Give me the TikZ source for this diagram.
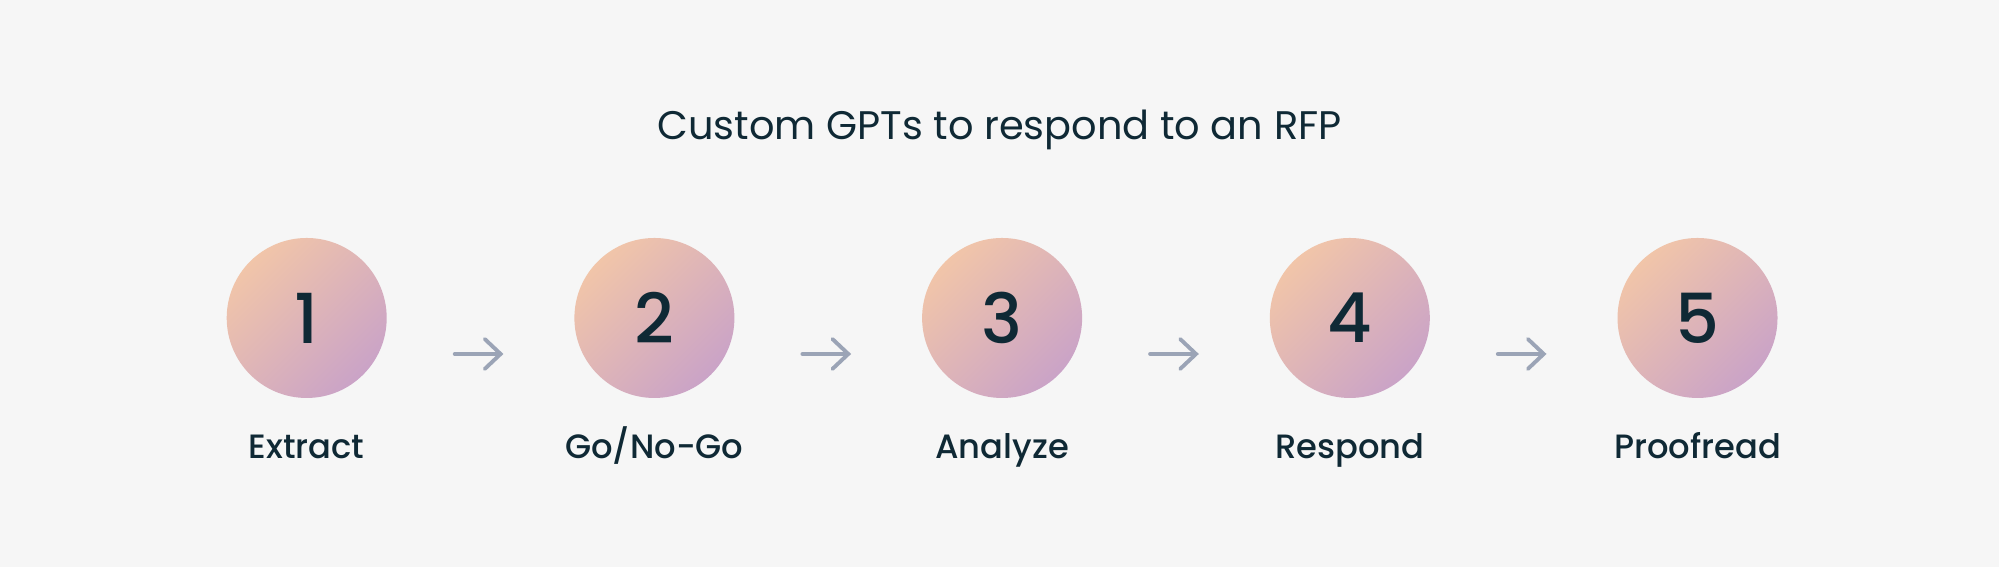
\documentclass[tikz,border=0pt]{standalone}
\usepackage{fontspec}
\setmainfont{Poppins}
\newfontfamily\labelfont{Poppins Medium}
\usetikzlibrary{positioning,arrows.meta}
\definecolor{bgcol}{HTML}{F6F6F6}
\definecolor{inkcol}{HTML}{0F2935}
\definecolor{peach}{HTML}{F1C5A9}
\definecolor{mauve}{HTML}{CAA3C7}
\definecolor{arrowcol}{HTML}{9BA4B6}

\begin{document}
\begin{tikzpicture}[text=inkcol,node distance=1.863cm,
    stepcircle/.style={circle,minimum size=1.6cm,inner sep=0pt,top color=peach,bottom color=mauve,shading angle=45,font=\labelfont\fontsize{19.6}{20}\selectfont},
    steplabel/.style={anchor=base,font=\labelfont\fontsize{9.6}{10}\selectfont},
    steparrow/.style={arrowcol,line width=1.1pt,line cap=round,-{Straight Barb[length=4.5pt,width=8.5pt,line cap=round]},shorten <=0.673cm,shorten >=0.703cm}]
      %background
      \fill[bgcol] (0,0) rectangle (19.99,5.67);
      \useasboundingbox (0,0) rectangle (19.99,5.67);

      %title
      \node[anchor=base,font=\fontsize{11.35}{12}\selectfont] (title) at (9.995,4.275) {Custom GPTs to respond to an RFP};

      %steps
      \node[stepcircle] (c1) at (3.067,2.49) {1};
      \node[stepcircle,right=of c1] (c2) {2};
      \node[stepcircle,right=of c2] (c3) {3};
      \node[stepcircle,right=of c3] (c4) {4};
      \node[stepcircle,right=of c4] (c5) {5};

      %step names
      \node[steplabel] (l1) at ([yshift=-1.41cm]c1.center) {Extract};
      \node[steplabel] (l2) at ([yshift=-1.41cm]c2.center) {Go/No-Go};
      \node[steplabel] (l3) at ([yshift=-1.41cm]c3.center) {Analyze};
      \node[steplabel] (l4) at ([yshift=-1.41cm]c4.center) {Respond};
      \node[steplabel] (l5) at ([yshift=-1.41cm]c5.center) {Proofread};

      %arrows
      \draw[steparrow] ([yshift=-0.36cm]c1.east) -- ([yshift=-0.36cm]c2.west);
      \draw[steparrow] ([yshift=-0.36cm]c2.east) -- ([yshift=-0.36cm]c3.west);
      \draw[steparrow] ([yshift=-0.36cm]c3.east) -- ([yshift=-0.36cm]c4.west);
      \draw[steparrow] ([yshift=-0.36cm]c4.east) -- ([yshift=-0.36cm]c5.west);
    \end{tikzpicture}
\end{document}
